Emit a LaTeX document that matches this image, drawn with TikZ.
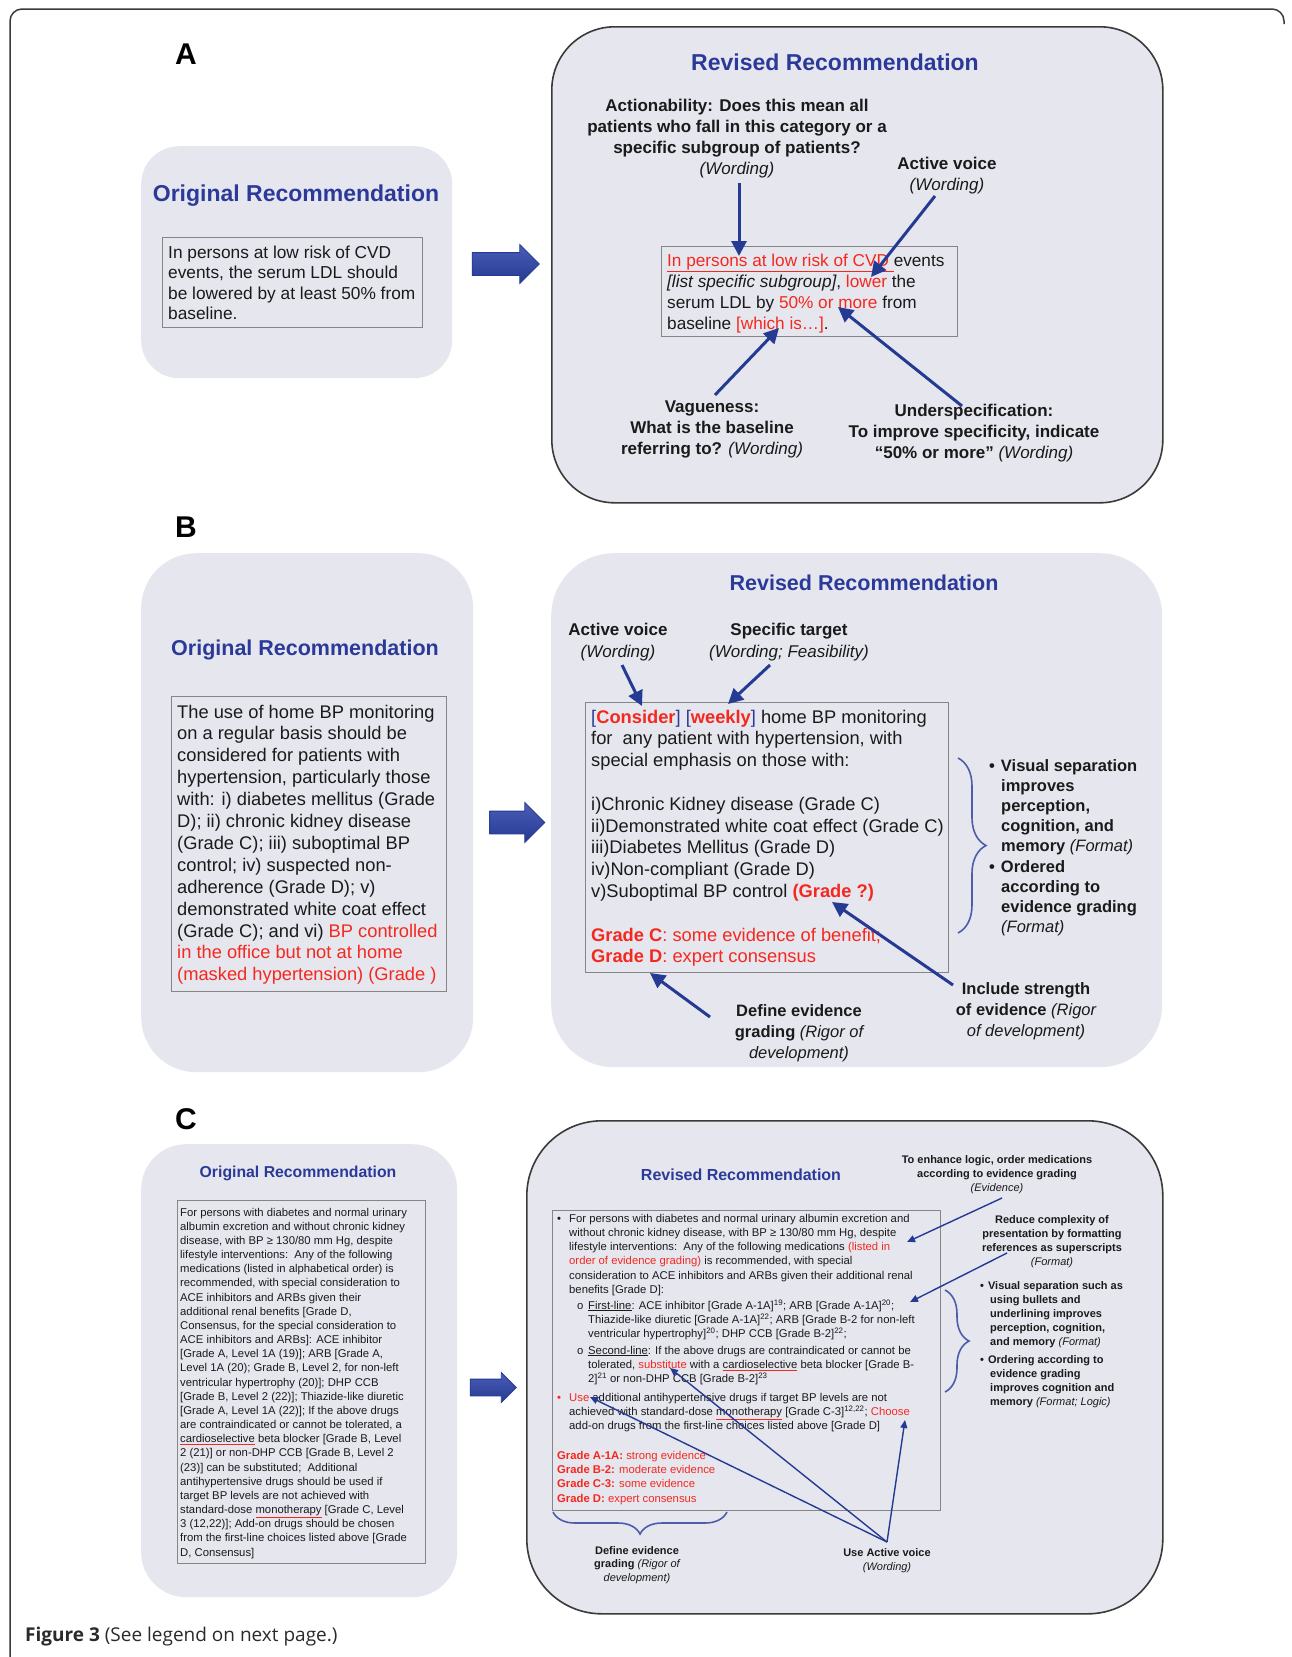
\documentclass[tikz,border=0pt]{standalone}
\usepackage{fontspec}
\setmainfont{Liberation Sans}
\newfontfamily\capfont{Open Sans}
\usetikzlibrary{arrows.meta}
\usetikzlibrary{calc, positioning, shapes.arrows}
\usetikzlibrary{decorations, decorations.pathreplacing}

\definecolor{panelfill}{HTML}{E6E6EF}
\definecolor{titleblue}{HTML}{2B3A98}
\definecolor{arrowblue}{HTML}{253A92}
\definecolor{arrowlight}{HTML}{4A5DB8}
\definecolor{bracecol}{HTML}{4D5DAA}
\definecolor{hired}{HTML}{F5281E}
\definecolor{boxgray}{HTML}{858585}
\definecolor{framegray}{HTML}{3A3A3A}
\definecolor{txtcol}{HTML}{1A1A1A}
\definecolor{captxt}{HTML}{2A2A2A}

\newcommand{\redtxt}[1]{\textcolor{hired}{#1}}
\newcommand{\spell}[1]{{\color{hired}\underline{\color{txtcol}#1}}}
\newcommand{\bulmark}{\makebox[12pt][l]{•}}
\newcommand{\subbul}{\hspace*{20pt}\makebox[11pt][l]{o}}

\tikzset{
    panel/.style={fill=panelfill, rounded corners=#1, anchor=north west, inner sep=0pt},
    panel/.default=40pt,
    revpanel/.style={panel=#1, draw=framegray, line width=1.6pt},
    inbox/.style={draw=boxgray, line width=1.3pt, anchor=north west, inner sep=0pt},
    lbl/.style={font=\bfseries\fontsize{30}{30}\selectfont, anchor=base, inner sep=0pt, text=black},
    boxtitle/.style={font=\bfseries\fontsize{#1}{#1}\selectfont, text=titleblue, anchor=base, inner sep=0pt},
    % multi-line texts: the base anchor sits on the last line
    rectxt/.style 2 args={font=\fontsize{#1}{#2}\selectfont, align=left, anchor=base west, inner sep=0pt, text=txtcol},
    note/.style 2 args={font=\bfseries\fontsize{#1}{#2}\selectfont, align=center, anchor=base, inner sep=0pt, text=txtcol},
    bullets/.style 2 args={font=\bfseries\fontsize{#1}{#2}\selectfont, align=left, anchor=base west, inner sep=0pt, text=txtcol},
    bigarrow/.style={single arrow, single arrow head extend=8pt, inner xsep=0pt, inner ysep=#1,
        top color=arrowlight, bottom color=arrowblue, draw=arrowblue, line width=0.8pt},
    bigarrow/.default=11pt,
    pointer/.style={draw=arrowblue, line width=3pt, -{Triangle[length=15pt, width=15pt]}},
    thinpointer/.style={draw=arrowblue, line width=1.4pt, -{Triangle[length=8pt, width=7pt]}},
    curly/.style={draw=bracecol, line width=1.6pt, decorate, decoration={brace, amplitude=#1}}
}

\begin{document}
\begin{tikzpicture}[x=1pt, y=-1pt]
    \useasboundingbox[fill=white] (0,0) rectangle (1292,1657);
    \draw[framegray, line width=1.5pt, rounded corners=12pt] (10,1657) -- (10,9) -- (1284,9) -- (1284,24);

    % ---- A
    \node[lbl] (aLbl) at (186,64) {A};
    \node[panel=38pt, minimum width=311pt, minimum height=232pt] (aOrig) at (141,146) {};
    \node[boxtitle=23] (aOrigTitle) at (296,201) {Original Recommendation};
    \node[inbox, minimum width=260pt, minimum height=90pt] (aOrigBox) at (162,237) {};
    \node[rectxt={17.3}{20.5}] (aOrigTxt) at (168,319.5) {In persons at low risk of CVD\\
        events, the serum LDL should\\
        be lowered by at least 50\% from\\
        baseline.};
    \node[bigarrow, minimum height=67pt, minimum width=38pt] (aArrow) at (500,264) {};
    \node[revpanel=63pt, minimum width=611pt, minimum height=476pt] (aRev) at (551,26) {};
    \node[boxtitle=23] (aRevTitle) at (835,70) {Revised Recommendation};
    \node[inbox, minimum width=296pt, minimum height=90pt] (aRevBox) at (661,246) {};
    \node[rectxt={17.2}{21}] (aRevTxt) at (667,329) {\redtxt{\underline{In persons at low risk of CVD }}events\\
        \textit{[list specific subgroup]}, \redtxt{lower} the\\
        serum LDL by \redtxt{50\% or more} from\\
        baseline \redtxt{[which is…]}.};
    \node[note={17}{21}] (aAct) at (737,174) {Actionability: Does this mean all\\
        patients who fall in this category or a\\
        specific subgroup of patients?\\
        {\mdseries\itshape (Wording)}};
    \node[note={17}{21}] (aVoice) at (947,190) {Active voice\\{\mdseries\itshape (Wording)}};
    \node[note={17}{21}] (aVague) at (712,454) {Vagueness:\\
        What is the baseline\\
        referring to? {\mdseries\itshape (Wording)}};
    \node[note={17}{21}] (aUnder) at (974,458) {Underspecification:\\
        To improve specificity, indicate\\
        “50\% or more” {\mdseries\itshape (Wording)}};
    \coordinate (aActTail) at (739,183);
    \coordinate (aActHead) at (739,256);
    \coordinate (aVoiceTail) at (935,196);
    \coordinate (aVoiceHead) at (871,277);
    \coordinate (aVagueTail) at (715,395);
    \coordinate (aVagueHead) at (779,328);
    \coordinate (aUnderTail) at (962,406);
    \coordinate (aUnderHead) at (838,307);
    \draw[pointer] (aActTail) -- (aActHead);
    \draw[pointer] (aVoiceTail) -- (aVoiceHead);
    \draw[pointer] (aVagueTail) -- (aVagueHead);
    \draw[pointer] (aUnderTail) -- (aUnderHead);

    % ---- B
    \node[lbl] (bLbl) at (186,537) {B};
    \node[panel=55pt, minimum width=332pt, minimum height=519pt] (bOrig) at (141,553) {};
    \node[boxtitle=21.5] (bOrigTitle) at (305,655) {Original Recommendation};
    \node[inbox, minimum width=275pt, minimum height=295pt] (bOrigBox) at (171,696) {};
    \node[rectxt={18.3}{21.9}] (bOrigTxt) at (177,980.8) {The use of home BP monitoring\\
        on a regular basis should be\\
        considered for patients with\\
        hypertension, particularly those\\
        with: i) diabetes mellitus (Grade\\
        D); ii) chronic kidney disease\\
        (Grade C); iii) suboptimal BP\\
        control; iv) suspected non-\\
        adherence (Grade D); v)\\
        demonstrated white coat effect\\
        (Grade C); and vi) \redtxt{BP controlled}\\
        \redtxt{in the office but not at home}\\
        \redtxt{(masked hypertension) (Grade )}};
    \node[bigarrow, minimum height=55pt, minimum width=39pt, single arrow head extend=8.5pt] (bArrow) at (511.5,822.5) {};
    \node[panel=63pt, minimum width=611pt, minimum height=514pt] (bRev) at (551,553) {};
    \node[boxtitle=21.5] (bRevTitle) at (864,590) {Revised Recommendation};
    \node[inbox, minimum width=363pt, minimum height=270pt] (bRevBox) at (585,702) {};
    \node[rectxt={18.3}{21.8}] (bRevTxt) at (591,962.8) {\textcolor{titleblue}{[}\redtxt{\bfseries Consider}\textcolor{titleblue}{]} \textcolor{titleblue}{[}\redtxt{\bfseries weekly}\textcolor{titleblue}{]} home BP monitoring\\
        for\ \ any patient with hypertension, with\\
        special emphasis on those with:\\[21.8pt]
        i)Chronic Kidney disease (Grade C)\\
        ii)Demonstrated white coat effect (Grade C)\\
        iii)Diabetes Mellitus (Grade D)\\
        iv)Non-compliant (Grade D)\\
        v)Suboptimal BP control \redtxt{\bfseries (Grade ?)}\\[21.8pt]
        \redtxt{\textbf{Grade C}: some evidence of benefit;}\\
        \redtxt{\textbf{Grade D}: expert consensus}};
    \node[note={17}{22}] (bVoice) at (618,657) {Active voice\\{\mdseries\itshape (Wording)}};
    \node[note={17}{22}] (bTarget) at (789,657) {Specific target\\{\mdseries\itshape (Wording; Feasibility)}};
    \node[note={16.5}{21}] (bDefine) at (799,1058) {Define evidence\\
        grading {\mdseries\itshape (Rigor of}\\
        {\mdseries\itshape development)}};
    \node[note={16.5}{21}] (bStrength) at (1026,1036) {Include strength\\
        of evidence {\mdseries\itshape (Rigor}\\
        {\mdseries\itshape of development)}};
    \node[bullets={16.5}{20.2}] (bList) at (989,932.6) {•\hspace{6pt}Visual separation\\
        \hspace*{12pt}improves\\
        \hspace*{12pt}perception,\\
        \hspace*{12pt}cognition, and\\
        \hspace*{12pt}memory {\mdseries\itshape (Format)}\\
        •\hspace{6pt}Ordered\\
        \hspace*{12pt}according to\\
        \hspace*{12pt}evidence grading\\
        \hspace*{12pt}{\mdseries\itshape (Format)}};
    \coordinate (bBraceTop) at (958,758);
    \coordinate (bBraceBot) at (958,933);
    \draw[curly=28pt] (bBraceTop) -- (bBraceBot);
    \coordinate (bVoiceTail) at (622,665);
    \coordinate (bVoiceHead) at (642,706);
    \coordinate (bTargetTail) at (770,665);
    \coordinate (bTargetHead) at (728,704);
    \coordinate (bStrengthTail) at (953,985);
    \coordinate (bStrengthHead) at (832,902);
    \coordinate (bDefineTail) at (710,1017);
    \coordinate (bDefineHead) at (650,973);
    \draw[pointer] (bVoiceTail) -- (bVoiceHead);
    \draw[pointer] (bTargetTail) -- (bTargetHead);
    \draw[pointer] (bStrengthTail) -- (bStrengthHead);
    \draw[pointer] (bDefineTail) -- (bDefineHead);

    % ---- C
    \node[lbl] (cLbl) at (186,1129) {C};
    \node[panel=45pt, minimum width=316pt, minimum height=453pt] (cOrig) at (141,1144) {};
    \node[boxtitle=15.8] (cOrigTitle) at (298,1177) {Original Recommendation};
    \node[inbox, minimum width=248pt, minimum height=363pt] (cOrigBox) at (177,1200) {};
    \node[rectxt={11.3}{14.17}] (cOrigTxt) at (180,1556.1) {For persons with diabetes and normal urinary\\
        albumin excretion and without chronic kidney\\
        disease, with BP ≥ 130/80 mm Hg, despite\\
        lifestyle interventions:\ \ Any of the following\\
        medications (listed in alphabetical order) is\\
        recommended, with special consideration to\\
        ACE inhibitors and ARBs given their\\
        additional renal benefits [Grade D,\\
        Consensus, for the special consideration to\\
        ACE inhibitors and ARBs]: ACE inhibitor\\
        {}[Grade A, Level 1A (19)]; ARB [Grade A,\\
        Level 1A (20); Grade B, Level 2, for non-left\\
        ventricular hypertrophy (20)]; DHP CCB\\
        {}[Grade B, Level 2 (22)]; Thiazide-like diuretic\\
        {}[Grade A, Level 1A (22)]; If the above drugs\\
        are contraindicated or cannot be tolerated, a\\
        \spell{cardioselective} beta blocker [Grade B, Level\\
        2 (21)] or non-DHP CCB [Grade B, Level 2\\
        (23)] can be substituted;\ \ Additional\\
        antihypertensive drugs should be used if\\
        target BP levels are not achieved with\\
        standard-dose \spell{monotherapy} [Grade C, Level\\
        3 (12,22)]; Add-on drugs should be chosen\\
        from the first-line choices listed above [Grade\\
        D, Consensus]};
    \node[bigarrow=8pt, minimum height=46pt, minimum width=29pt, single arrow head extend=6.5pt] (cArrow) at (489,1387.5) {};
    \node[revpanel=75pt, minimum width=636pt, minimum height=493pt] (cRev) at (526,1120) {};
    \node[boxtitle=16] (cRevTitle) at (741,1180) {Revised Recommendation};
    \node[inbox, minimum width=388pt, minimum height=300pt] (cRevBox) at (552,1210) {};
    \node[rectxt={11.3}{14.3}] (cRevTxt) at (557,1502) {\bulmark For persons with diabetes and normal urinary albumin excretion and\\
        \hspace*{12pt}without chronic kidney disease, with BP ≥ 130/80 mm Hg, despite\\
        \hspace*{12pt}lifestyle interventions:\ \ Any of the following medications \redtxt{(listed in}\\
        \hspace*{12pt}\redtxt{order of evidence grading)} is recommended, with special\\
        \hspace*{12pt}consideration to ACE inhibitors and ARBs given their additional renal\\
        \hspace*{12pt}benefits [Grade D]:\\[1.2pt]
        \subbul\underline{First-line}: ACE inhibitor [Grade A-1A]\textsuperscript{19}; ARB [Grade A-1A]\textsuperscript{20};\\
        \hspace*{31pt}Thiazide-like diuretic [Grade A-1A]\textsuperscript{22}; ARB [Grade B-2 for non-left\\
        \hspace*{31pt}ventricular hypertrophy]\textsuperscript{20}; DHP CCB [Grade B-2]\textsuperscript{22};\\[2.1pt]
        \subbul\underline{Second-line}: If the above drugs are contraindicated or cannot be\\
        \hspace*{31pt}tolerated, \redtxt{substitute} with a \spell{cardioselective} beta blocker [Grade B-\\
        \hspace*{31pt}2]\textsuperscript{21} or non-DHP CCB [Grade B-2]\textsuperscript{23}\\[4.1pt]
        \redtxt{\bulmark Use} additional antihypertensive drugs if target BP levels are not\\
        \hspace*{12pt}achieved with standard-dose \spell{monotherapy} [Grade C-3]\textsuperscript{12,22}; \redtxt{Choose}\\
        \hspace*{12pt}add-on drugs from the first-line choices listed above [Grade D]\\[15.2pt]
        \redtxt{\textbf{Grade A-1A:} strong evidence}\\
        \redtxt{\textbf{Grade B-2:} moderate evidence}\\
        \redtxt{\textbf{Grade C-3:} some evidence}\\
        \redtxt{\textbf{Grade D:} expert consensus}};
    \node[note={11}{14.3}] (cLogic) at (997,1191.6) {To enhance logic, order medications\\
        according to evidence grading\\
        {\mdseries\itshape (Evidence)}};
    \node[note={11}{14.2}] (cSuper) at (1052,1265.6) {Reduce complexity of\\
        presentation by formatting\\
        references as superscripts\\
        {\mdseries\itshape (Format)}};
    \node[bullets={11}{14.2}] (cList) at (980,1405.6) {•\hspace{4pt}Visual separation such as\\
        \hspace*{10pt}using bullets and\\
        \hspace*{10pt}underlining improves\\
        \hspace*{10pt}perception, cognition,\\
        \hspace*{10pt}and memory {\mdseries\itshape (Format)}\\[3pt]
        •\hspace{4pt}Ordering according to\\
        \hspace*{10pt}evidence grading\\
        \hspace*{10pt}improves cognition and\\
        \hspace*{10pt}memory {\mdseries\itshape (Format; Logic)}};
    \node[note={11}{13.6}] (cDefine) at (637,1581.2) {Define evidence\\
        grading {\mdseries\itshape (Rigor of}\\
        {\mdseries\itshape development)}};
    \node[note={11}{14}] (cVoice) at (887,1570) {Use Active voice\\{\mdseries\itshape (Wording)}};
    \coordinate (cBraceTop) at (945,1290);
    \coordinate (cBraceBot) at (945,1392);
    \draw[curly=24pt] (cBraceTop) -- (cBraceBot);
    \coordinate (cGradeR) at (727,1512);
    \coordinate (cGradeL) at (553,1512);
    \draw[curly=22pt] (cGradeR) -- (cGradeL);
    \coordinate (cLogicTail) at (1002,1198);
    \coordinate (cLogicHead) at (907,1242);
    \coordinate (cSuperTail) at (1007,1253);
    \coordinate (cSuperHead) at (910,1302);
    \coordinate (cVoiceTail) at (887,1542);
    \coordinate (cUseHead) at (590,1397);
    \coordinate (cSubstHead) at (670,1368);
    \coordinate (cChooseHead) at (905,1420);
    \draw[thinpointer] (cLogicTail) -- (cLogicHead);
    \draw[thinpointer] (cSuperTail) -- (cSuperHead);
    \draw[thinpointer] (cVoiceTail) -- (cUseHead);
    \draw[thinpointer] (cVoiceTail) -- (cSubstHead);
    \draw[thinpointer] (cVoiceTail) -- (cChooseHead);

    \node[anchor=base west, inner sep=0pt, font=\capfont\fontsize{19}{19}\selectfont, text=captxt] (capTxt) at (25,1641) {\textbf{Figure 3} (See legend on next page.)};
\end{tikzpicture}
\end{document}
